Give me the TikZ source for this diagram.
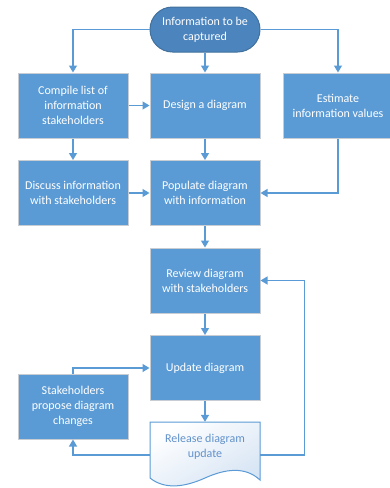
\documentclass[tikz,border=0pt]{standalone}
\usepackage{fontspec}
\setmainfont{Carlito}
\usetikzlibrary{arrows.meta,shapes.misc}
\definecolor{boxblue}{RGB}{91,155,213}
\definecolor{termblue}{RGB}{76,132,190}
\definecolor{termedge}{RGB}{65,113,156}
\definecolor{boxedge}{RGB}{200,205,212}
\definecolor{linkblue}{RGB}{91,155,213}
\definecolor{doctext}{RGB}{98,146,204}
\definecolor{docfill}{RGB}{214,228,244}
\tikzset{
  stepbox/.style={rectangle, draw=boxedge, line width=1pt, fill=boxblue,
    minimum width=110pt, minimum height=65pt, align=center,
    text=white, font=\fontsize{12}{15}\selectfont, inner sep=0pt},
  termbox/.style={rounded rectangle, draw=termedge, line width=1pt, fill=termblue,
    minimum width=110pt, minimum height=45pt, align=center,
    text=white, font=\fontsize{12}{15}\selectfont, inner sep=0pt},
  docbox/.style={rectangle, draw=none, minimum width=110pt, minimum height=66pt, inner sep=0pt},
  doclabel/.style={align=center, text=doctext, font=\fontsize{12}{15}\selectfont, inner sep=0pt},
  link/.style={draw=linkblue, line width=1.4pt, -{Triangle[length=7pt,width=8pt]}},
}
\begin{document}
\begin{tikzpicture}[x=1pt,y=-1pt]
\useasboundingbox (0,0) rectangle (390,488);
\node[termbox] (term) at (205,29.5) {Information to be\\captured};
\node[stepbox] (compile) at (73,105.5) {Compile list of\\information\\stakeholders};
\node[stepbox] (design) at (205,105.5) {Design a diagram};
\node[stepbox] (estimate) at (338,105.5) {Estimate\\information values};
\node[stepbox] (discuss) at (73,193) {Discuss information\\with stakeholders};
\node[stepbox] (populate) at (205,193) {Populate diagram\\with information};
\node[stepbox] (review) at (205,280.5) {Review diagram\\with stakeholders};
\node[stepbox] (update) at (205,368) {Update diagram};
\node[stepbox] (stake) at (73,406.5) {Stakeholders\\propose diagram\\changes};
\node[docbox] (release) at (205,455) {};
\path[draw=linkblue, line width=1pt, top color=white, bottom color=docfill, shading angle=30]
  (150,422) -- (260,422) -- (260,480)
  .. controls (245,466) and (225,469) .. (205,478)
  .. controls (185,487) and (165,490) .. (150,478) -- cycle;
\node[doclabel] (releasetext) at (205,447) {Release diagram\\update};
% connectors
\draw[link] (term.west) -| (compile.north);
\draw[link] (term.east) -| (estimate.north);
\draw[link] (term.south) -- (design.north);
\draw[link] (compile.east) -- (design.west);
\draw[link] (compile.south) -- (discuss.north);
\draw[link] (design.south) -- (populate.north);
\draw[link] (estimate.south) |- (populate.east);
\draw[link] (discuss.east) -- (populate.west);
\draw[link] (populate.south) -- (review.north);
\draw[link] (review.south) -- (update.north);
\draw[link] (update.south) -- (release.north);
\draw[link] (release.east) -- ++(44,0) |- (review.east);
\draw[link] (release.west) -| (stake.south);
\draw[link] (stake.north) |- (update.west);
\end{tikzpicture}
\end{document}
